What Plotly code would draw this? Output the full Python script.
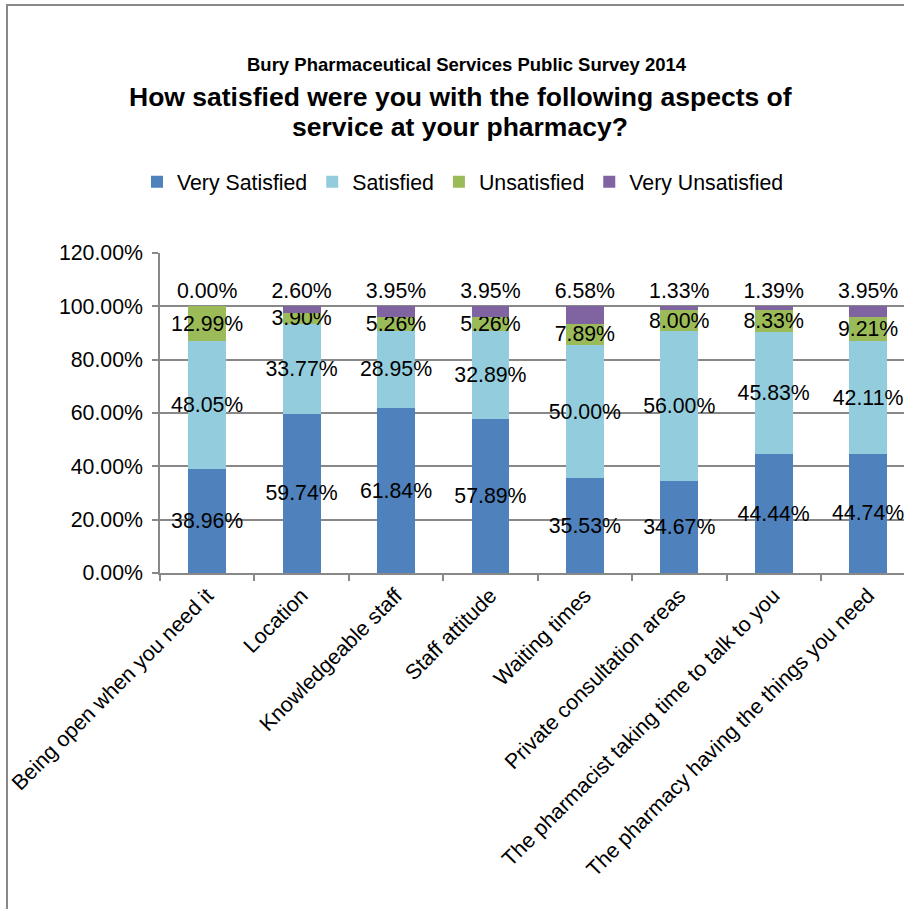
import plotly.graph_objects as go

# Datos de la encuesta (porcentajes)
categories = [
    "Being open when you need it",
    "Location",
    "Knowledgeable staff",
    "Staff attitude",
    "Waiting times",
    "Private consultation areas",
    "The pharmacist taking time to talk to you",
    "The pharmacy having the things you need",
]
very_satisfied = [38.96, 59.74, 61.84, 57.89, 35.53, 34.67, 44.44, 44.74]
satisfied = [48.05, 33.77, 28.95, 32.89, 50.00, 56.00, 45.83, 42.11]
unsatisfied = [12.99, 3.90, 5.26, 5.26, 7.89, 8.00, 8.33, 9.21]
very_unsatisfied = [0.00, 2.60, 3.95, 3.95, 6.58, 1.33, 1.39, 3.95]

series = [
    ("Very Satisfied", very_satisfied, "#4F81BD"),
    ("Satisfied", satisfied, "#93CDDD"),
    ("Unsatisfied", unsatisfied, "#9BBB59"),
    ("Very Unsatisfied", very_unsatisfied, "#8064A2"),
]

FONT = "Arial, Liberation Sans, sans-serif"

# Conversion px -> paper (plot area: x 160..904, y 253..573)
def px_x(px):
    return (px - 160) / 744

def px_y(py):
    return (573 - py) / 320

fig = go.Figure()

for i, (name, vals, color) in enumerate(series):
    last = i == len(series) - 1
    fig.add_trace(go.Bar(
        name=name,
        x=categories,
        y=vals,
        marker=dict(color=color, line=dict(width=0)),
        texttemplate="%{y:.2f}%",
        textposition="outside" if last else "inside",
        insidetextanchor="middle",
        constraintext="none",
        textangle=0,
        insidetextfont=dict(family=FONT, size=21.3, color="black"),
        outsidetextfont=dict(family=FONT, size=21.3, color="black"),
        cliponaxis=False,
    ))

fig.update_layout(
    width=904,
    height=909,
    barmode="stack",
    bargap=0.6,
    plot_bgcolor="white",
    paper_bgcolor="white",
    margin=dict(l=160, r=0, t=253, b=336),
    font=dict(family=FONT, size=21.3, color="black"),
    showlegend=True,
    legend=dict(
        orientation="h",
        x=px_x(137), xanchor="left",
        y=px_y(182), yanchor="middle",
        font=dict(family=FONT, size=21.3, color="black"),
        traceorder="normal",
        itemwidth=30,
        tracegroupgap=0,
    ),
    xaxis=dict(
        range=[-0.5, 7.38],
        tickangle=-45,
        tickson="boundaries",
        ticks="outside",
        ticklen=6,
        tickcolor="#888888",
        tickwidth=1.5,
        showline=True,
        linecolor="#888888",
        linewidth=1.5,
        showgrid=False,
        tickfont=dict(family=FONT, size=21.3, color="black"),
    ),
    yaxis=dict(
        range=[0, 120],
        dtick=20,
        tickformat=".2f",
        ticksuffix="%",
        ticks="outside",
        ticklen=6,
        tickcolor="#888888",
        tickwidth=1.5,
        ticklabelstandoff=5,
        showline=True,
        linecolor="#888888",
        linewidth=1.5,
        showgrid=True,
        gridcolor="#888888",
        gridwidth=1.5,
        zeroline=False,
        tickfont=dict(family=FONT, size=21.3, color="black"),
    ),
    annotations=[
        dict(
            text="<b>Bury Pharmaceutical Services Public Survey 2014</b>",
            xref="paper", yref="paper",
            x=px_x(467), y=px_y(64),
            xanchor="center", yanchor="middle",
            showarrow=False,
            font=dict(family=FONT, size=18.5, color="black"),
        ),
        dict(
            text="<b>How satisfied were you with the following aspects of</b>",
            xref="paper", yref="paper",
            x=px_x(460), y=px_y(97),
            xanchor="center", yanchor="middle",
            showarrow=False,
            font=dict(family=FONT, size=26.5, color="black"),
        ),
        dict(
            text="<b>service at your pharmacy?</b>",
            xref="paper", yref="paper",
            x=px_x(460), y=px_y(127),
            xanchor="center", yanchor="middle",
            showarrow=False,
            font=dict(family=FONT, size=26.5, color="black"),
        ),
    ],
    shapes=[
        # marco del gráfico (solo borde izquierdo y superior visibles)
        dict(
            type="line",
            xref="paper", yref="paper",
            x0=px_x(7), x1=px_x(7),
            y0=px_y(909), y1=px_y(4),
            line=dict(color="#888888", width=2),
            layer="below",
        ),
        dict(
            type="line",
            xref="paper", yref="paper",
            x0=px_x(6), x1=px_x(904),
            y0=px_y(5), y1=px_y(5),
            line=dict(color="#888888", width=2),
            layer="below",
        ),
    ],
)

# sin margen ni scroll para que la figura ocupe toda la ventana
fig.write_html(
    "out.html",
    config={"displayModeBar": False},
    post_script=(
        "document.documentElement.style.overflow='hidden';"
        "document.body.style.margin='0px';"
        "document.body.style.overflow='hidden';"
    ),
)
